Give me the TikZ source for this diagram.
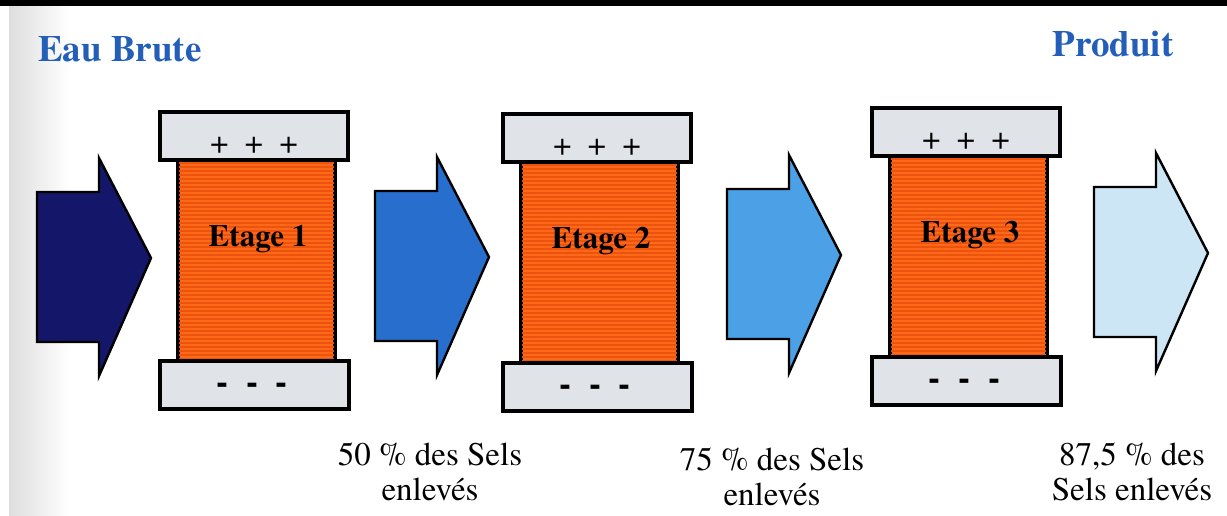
\documentclass[tikz,border=0pt]{standalone}
\usepackage{fontspec}
\setmainfont{texgyretermes}[Extension=.otf, UprightFont=*-regular, BoldFont=*-bold,
  ItalicFont=*-italic, BoldItalicFont=*-bolditalic]

\definecolor{titleblue}{RGB}{35,95,185}
\definecolor{capgrey}{RGB}{224,227,231}
\definecolor{cellorange}{RGB}{255,104,24}
\definecolor{stripeorange}{RGB}{236,84,14}
\definecolor{flownavy}{RGB}{20,22,105}
\definecolor{flowblue}{RGB}{40,110,205}
\definecolor{flowsky}{RGB}{75,160,230}
\definecolor{flowpale}{RGB}{205,230,245}

\tikzset{
  endcap/.style={draw=black, line width=2pt, fill=capgrey},
  cell/.style={draw=black, line width=2pt, fill=cellorange},
  stripe/.style={draw=stripeorange, line width=0.7pt},
  flow/.style={draw=black, line width=1.2pt, line join=miter},
  title/.style={font=\fontsize{18.5}{20}\selectfont\bfseries, text=titleblue},
  stagelabel/.style={font=\fontsize{15.5}{17}\selectfont\bfseries},
  sign/.style={font=\fontsize{16.5}{18}\selectfont, inner sep=0pt},
  note/.style={font=\fontsize{16.5}{17.5}\selectfont, align=center, inner sep=0pt, anchor=north},
}

\begin{document}
\begin{tikzpicture}[x=0.5pt, y=-0.5pt]
\useasboundingbox (0,0) rectangle (1227,515);
% page edge and scan shadow
\shade[left color=black!13, right color=white] (9,6) rectangle (70,515);
\fill[black] (0,0) rectangle (1227,6);

% headings
\node[title] (brute) at (120,49) {Eau Brute};
\node[title] (produit) at (1113,44) {Produit};

% flow arrows, darkest to palest
\foreach \x/\y/\col in {37/267/flownavy, 375/266/flowblue, 727/264/flowsky, 1094/262/flowpale} {
  \filldraw[flow, fill=\col] (\x,\y-75) -- (\x+62,\y-75) -- (\x+62,\y-109) -- (\x+114,\y-9)
    -- (\x+62,\y+109) -- (\x+62,\y+75) -- (\x,\y+75) -- cycle;
}

% the three stages
\foreach \n/\x/\y in {1/160/112, 2/503/114, 3/872/108} {
  \draw[cell] (\x+18,\y+48) rectangle ++(157,201);
  \foreach \s in {3,7,...,199} \draw[stripe] (\x+19,\y+48+\s) -- (\x+174,\y+48+\s);
  \draw[endcap] (\x,\y) rectangle ++(188,48);
  \draw[endcap] (\x,\y+249) rectangle ++(189,48);
  \node[stagelabel] (etage\n) at (\x+98,\y+127) {Etage \n};
  \node[sign] (plus\n) at (\x+94,\y+33) {+\hspace{8pt}+\hspace{8pt}+};
  \node[sign, font=\fontsize{18}{18}\selectfont\bfseries] (minus\n) at (\x+92,\y+276)
    {-\hspace{9pt}-\hspace{9pt}-};
}

% removal rates
\node[note] (taux1) at (430,442) {50 \% des Sels\\enlevés};
\node[note] (taux2) at (772,447) {75 \% des Sels\\enlevés};
\node[note] (taux3) at (1132,442) {87,5 \% des\\Sels enlevés};
\end{tikzpicture}
\end{document}
